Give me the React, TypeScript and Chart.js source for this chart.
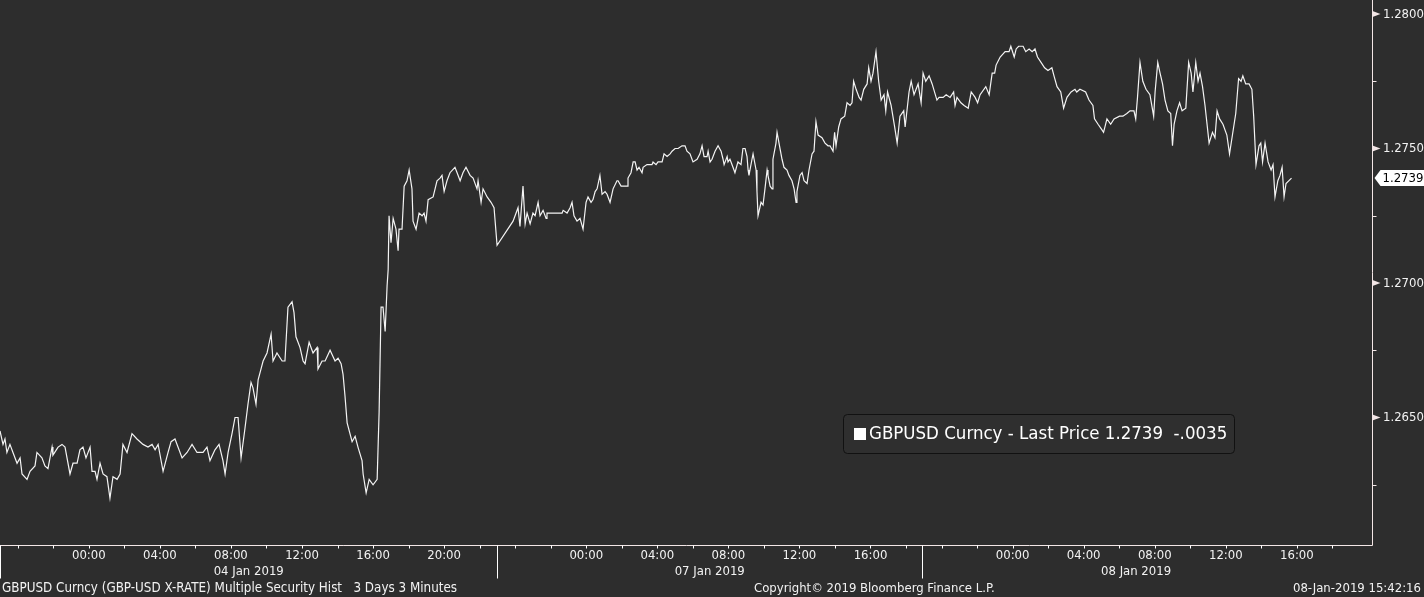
import React, { useEffect, useRef } from "react";
import { Chart, registerables } from "chart.js";

Chart.register(...registerables);

// x = hours on Bloomberg's compressed intraday axis (0 = 03 Jan 19:00), y = GBPUSD price
const JAN04_POINTS: [number, number][] = [
  [0.0, 1.2645], [0.17, 1.264], [0.28, 1.2642], [0.39, 1.2637], [0.56, 1.264], [0.73, 1.2637], [0.96, 1.2633], [1.13, 1.2635], [1.24, 1.2629], [1.52, 1.2627],
  [1.69, 1.263], [1.97, 1.2632], [2.08, 1.2637], [2.36, 1.2635], [2.53, 1.2632], [2.7, 1.2631], [2.93, 1.2639], [2.98, 1.2636], [3.27, 1.2639], [3.49, 1.264],
  [3.66, 1.2639], [3.94, 1.2629], [4.11, 1.2633], [4.34, 1.2633], [4.5, 1.2638], [4.67, 1.2639], [4.84, 1.2635], [5.07, 1.2639], [5.18, 1.263], [5.35, 1.263],
  [5.46, 1.2627], [5.63, 1.2633], [5.8, 1.2629], [6.02, 1.2628], [6.19, 1.262], [6.36, 1.2628], [6.59, 1.2627], [6.76, 1.2629], [6.92, 1.264], [7.15, 1.2637],
  [7.43, 1.2644], [7.71, 1.2642], [8.05, 1.264], [8.33, 1.2639], [8.56, 1.264], [8.73, 1.2638], [8.9, 1.264], [9.18, 1.263], [9.46, 1.2637], [9.63, 1.2641],
  [9.85, 1.2642], [10.25, 1.2635], [10.53, 1.2637], [10.81, 1.264], [11.09, 1.2637], [11.43, 1.2637], [11.65, 1.2639], [11.82, 1.2634], [12.1, 1.2638], [12.33, 1.264],
  [12.55, 1.2634], [12.67, 1.2629], [12.84, 1.2637], [13.06, 1.2644], [13.23, 1.265], [13.4, 1.265], [13.57, 1.2635], [13.79, 1.2646], [13.96, 1.2655], [14.13, 1.2663],
  [14.24, 1.2661], [14.41, 1.2655], [14.53, 1.2664], [14.69, 1.2668], [14.81, 1.2671], [15.03, 1.2674], [15.26, 1.2681], [15.37, 1.2671], [15.59, 1.2674], [15.88, 1.2671],
  [16.04, 1.2671], [16.21, 1.2691], [16.44, 1.2693], [16.55, 1.2689], [16.66, 1.268], [16.89, 1.2676], [17.06, 1.2671], [17.17, 1.267], [17.4, 1.2678], [17.62, 1.2674],
  [17.85, 1.2676], [17.9, 1.2668], [18.13, 1.2671], [18.3, 1.2671], [18.58, 1.2675], [18.86, 1.2671], [19.03, 1.2672], [19.2, 1.267], [19.31, 1.2666], [19.42, 1.2658],
  [19.54, 1.2648], [19.82, 1.2641], [19.99, 1.2643], [20.15, 1.2639], [20.38, 1.2634], [20.44, 1.2629], [20.61, 1.2622], [20.78, 1.2627], [21.0, 1.2625], [21.23, 1.2627],
  [21.34, 1.2652], [21.45, 1.2691], [21.56, 1.2691], [21.68, 1.2682], [21.79, 1.2699], [21.85, 1.2705], [21.9, 1.2725], [22.01, 1.2715], [22.13, 1.2724], [22.29, 1.272],
  [22.41, 1.2712], [22.46, 1.272], [22.63, 1.272], [22.75, 1.2736], [22.91, 1.2738], [23.03, 1.2742], [23.19, 1.2735], [23.25, 1.2723], [23.42, 1.272], [23.59, 1.2726],
  [23.76, 1.2725], [23.87, 1.2726], [23.98, 1.2723], [24.1, 1.2731], [24.38, 1.2732], [24.6, 1.2738], [24.77, 1.2739], [24.88, 1.274], [25.0, 1.2734], [25.16, 1.2738],
  [25.33, 1.2741], [25.61, 1.2743], [25.73, 1.2741], [25.9, 1.2738], [26.06, 1.2741], [26.23, 1.2743], [26.46, 1.274], [26.63, 1.2739], [26.85, 1.2735], [26.91, 1.2738],
  [27.08, 1.273], [27.19, 1.2735], [27.42, 1.2732], [27.64, 1.273], [27.81, 1.2728], [27.98, 1.2714],
];

const JAN07_POINTS: [number, number][] = [
  [28.88, 1.2723], [29.16, 1.2728], [29.27, 1.2721], [29.44, 1.2736], [29.56, 1.2722], [29.67, 1.2726], [29.84, 1.2722], [30.0, 1.2726], [30.12, 1.2725], [30.29, 1.273],
  [30.4, 1.2725], [30.57, 1.2727], [30.74, 1.2724], [30.79, 1.2726], [31.36, 1.2726], [31.53, 1.2726], [31.64, 1.2726], [31.7, 1.2727], [31.92, 1.2726], [32.09, 1.2728],
  [32.2, 1.273], [32.31, 1.2725], [32.48, 1.2723], [32.65, 1.2724], [32.82, 1.272], [32.99, 1.273], [33.1, 1.2732], [33.27, 1.273], [33.38, 1.2731], [33.5, 1.2734],
  [33.61, 1.2735], [33.77, 1.274], [33.89, 1.2733], [34.06, 1.2734], [34.17, 1.2733], [34.34, 1.273], [34.51, 1.2735], [34.73, 1.2738], [34.79, 1.2738], [34.96, 1.2736],
  [35.07, 1.2736], [35.3, 1.2736], [35.35, 1.2739], [35.52, 1.2741], [35.64, 1.2745], [35.75, 1.2745], [35.86, 1.2742], [35.97, 1.2743], [36.14, 1.2741], [36.2, 1.2743],
  [36.42, 1.2744], [36.7, 1.2744], [36.76, 1.2745], [36.93, 1.2744], [37.04, 1.2745], [37.27, 1.2745], [37.38, 1.2748], [37.55, 1.2747], [37.72, 1.2748], [37.83, 1.2749],
  [38.0, 1.275], [38.17, 1.275], [38.39, 1.2751], [38.56, 1.2751], [38.67, 1.2749], [38.84, 1.2748], [39.01, 1.2745], [39.24, 1.2746], [39.4, 1.2748], [39.52, 1.2751],
  [39.63, 1.2747], [39.8, 1.2747], [39.86, 1.2749], [39.97, 1.2745], [40.08, 1.2746], [40.25, 1.2749], [40.42, 1.2751], [40.59, 1.2749], [40.7, 1.2746], [40.76, 1.2744],
  [40.93, 1.2747], [40.98, 1.2745], [41.09, 1.2746], [41.26, 1.2743], [41.37, 1.2741], [41.54, 1.2745], [41.71, 1.2744], [41.82, 1.275], [41.94, 1.275], [42.05, 1.2747],
  [42.11, 1.2742], [42.16, 1.274], [42.33, 1.2746], [42.39, 1.2748], [42.56, 1.2742], [42.61, 1.2734], [42.67, 1.2725], [42.84, 1.273], [42.95, 1.2729], [43.06, 1.2735],
  [43.18, 1.2742], [43.23, 1.274], [43.35, 1.2736], [43.46, 1.2735], [43.51, 1.2746], [43.68, 1.2752], [43.74, 1.2756], [43.85, 1.2752], [44.02, 1.2746], [44.13, 1.2743],
  [44.3, 1.2742], [44.41, 1.274], [44.58, 1.2738], [44.7, 1.2735], [44.81, 1.273], [44.86, 1.2734], [45.03, 1.274], [45.15, 1.2741], [45.26, 1.2738], [45.43, 1.2737],
  [45.54, 1.2742], [45.71, 1.2748], [45.82, 1.2749], [45.93, 1.276], [46.05, 1.2755], [46.27, 1.2754], [46.44, 1.2752], [46.61, 1.2751], [46.72, 1.2751], [46.89, 1.2749],
  [46.98, 1.2756], [47.06, 1.2751], [47.21, 1.2758], [47.34, 1.2761], [47.55, 1.2762], [47.68, 1.2767], [47.85, 1.2766], [47.96, 1.2767], [48.05, 1.2775], [48.19, 1.2772],
  [48.36, 1.2769], [48.47, 1.2768], [48.62, 1.2772], [48.81, 1.2774], [48.9, 1.278], [49.03, 1.2775], [49.14, 1.2778], [49.31, 1.2786], [49.46, 1.2775], [49.6, 1.2768],
  [49.76, 1.277], [49.86, 1.2764], [49.96, 1.2771], [50.16, 1.2766], [50.36, 1.2758], [50.5, 1.2752], [50.66, 1.2762], [50.87, 1.2764], [50.95, 1.2758], [51.17, 1.2771],
  [51.29, 1.2775], [51.45, 1.277], [51.68, 1.2774], [51.85, 1.2767], [51.96, 1.2778],
];

const JAN08_POINTS: [number, number][] = [
  [52.11, 1.2775], [52.3, 1.2777], [52.47, 1.2774], [52.74, 1.2768], [52.86, 1.2769], [53.09, 1.2769], [53.26, 1.277], [53.48, 1.2769], [53.68, 1.2771], [53.76, 1.2766],
  [53.87, 1.2769], [54.09, 1.2767], [54.27, 1.2766], [54.5, 1.2765], [54.67, 1.2771], [54.89, 1.2769], [55.03, 1.2767], [55.17, 1.277], [55.49, 1.2773], [55.68, 1.277],
  [55.85, 1.2778], [55.99, 1.2778], [56.07, 1.2781], [56.3, 1.2784], [56.58, 1.2786], [56.8, 1.2786], [56.9, 1.2788], [57.09, 1.2784], [57.2, 1.2787], [57.34, 1.2788],
  [57.59, 1.2788], [57.74, 1.2786], [57.93, 1.2787], [58.1, 1.2786], [58.26, 1.2787], [58.4, 1.2784], [58.6, 1.2782], [58.8, 1.278], [58.99, 1.2779], [59.21, 1.278],
  [59.33, 1.2777], [59.5, 1.2773], [59.71, 1.2771], [59.87, 1.2765], [60.06, 1.2769], [60.29, 1.2771], [60.51, 1.2772], [60.61, 1.2771], [60.79, 1.2772], [61.11, 1.2771],
  [61.3, 1.2768], [61.52, 1.2766], [61.61, 1.2761], [61.81, 1.2759], [62.02, 1.2757], [62.12, 1.2756], [62.31, 1.2761], [62.52, 1.2759], [62.71, 1.2761], [63.02, 1.2762],
  [63.21, 1.2762], [63.43, 1.2763], [63.61, 1.2764], [63.83, 1.2764], [63.93, 1.2761], [64.03, 1.2769], [64.17, 1.2782], [64.33, 1.2775], [64.51, 1.2772], [64.73, 1.277],
  [64.94, 1.2762], [65.02, 1.2771], [65.17, 1.2782], [65.3, 1.2778], [65.44, 1.2774], [65.58, 1.2768], [65.74, 1.2764], [65.9, 1.2763], [66.0, 1.2751], [66.09, 1.2759],
  [66.25, 1.2764], [66.4, 1.2767], [66.54, 1.2764], [66.75, 1.2765], [66.91, 1.2782], [67.05, 1.2778], [67.15, 1.2771], [67.31, 1.2782], [67.44, 1.2775], [67.55, 1.2778],
  [67.69, 1.2773], [67.83, 1.2766], [68.06, 1.2752], [68.25, 1.2756], [68.39, 1.2754], [68.51, 1.2764], [68.65, 1.2761], [68.84, 1.2759], [69.06, 1.2755], [69.21, 1.2748],
  [69.35, 1.2754], [69.56, 1.2763], [69.72, 1.2776], [69.86, 1.2775], [69.96, 1.2777], [70.12, 1.2774], [70.31, 1.2774], [70.47, 1.2772], [70.57, 1.2762], [70.7, 1.2744],
  [70.87, 1.2751], [70.97, 1.2752], [71.07, 1.2745], [71.21, 1.2752], [71.38, 1.2745], [71.55, 1.2742], [71.66, 1.2744], [71.77, 1.2732], [71.93, 1.2738], [72.05, 1.274],
  [72.17, 1.2743], [72.28, 1.2732], [72.39, 1.2737], [72.7, 1.2739],
];

// Session boundaries on the compressed axis (hours) and their day labels
const SESSION_BOUNDS = [0, 28, 51.9, 76];
const DAY_LABELS = ["04 Jan 2019", "07 Jan 2019", "08 Jan 2019"];
const TIME_TICK_HOURS = [5, 9, 13, 17, 21, 25, 33, 37, 41, 45, 49, 57, 61, 65, 69, 73];
const TIME_TICK_LABELS = [
  "00:00", "04:00", "08:00", "12:00", "16:00", "20:00",
  "00:00", "04:00", "08:00", "12:00", "16:00",
  "00:00", "04:00", "08:00", "12:00", "16:00",
];
const PRICE_TICKS = [1.265, 1.27, 1.275, 1.28];
const PRICE_TICK_LABELS = ["1.2650", "1.2700", "1.2750", "1.2800"];
const MINOR_PRICE_TICKS = [1.2625, 1.2675, 1.2725, 1.2775];
const LAST_PRICE = 1.2739;
const LAST_PRICE_LABEL = "1.2739";
const NET_CHANGE_LABEL = "-.0035";
const SERIES_NAME = "GBPUSD Curncy - Last Price";
const FOOTER_LEFT = "GBPUSD Curncy (GBP-USD X-RATE) Multiple Security Hist   3 Days 3 Minutes";
const FOOTER_MID = "Copyright\u00A9 2019 Bloomberg Finance L.P.";
const FOOTER_RIGHT = "08-Jan-2019 15:42:16";

const BG = "#2d2d2d";
const AXIS = "#f3e6e6";
const TEXT = "#f2f2f2";
const FONT = "'DejaVu Sans Condensed', 'DejaVu Sans', sans-serif";
const W = 1424;
const H = 597;

const bbgPlugin = {
  id: "bbgDecor",
  beforeDraw(chart: any) {
    const { ctx, width, height } = chart;
    ctx.save();
    ctx.fillStyle = BG;
    ctx.fillRect(0, 0, width, height);
    ctx.restore();
  },
  afterDraw(chart: any) {
    const { ctx, chartArea: a, scales } = chart;
    const xs = scales.x;
    const ys = scales.y;
    const R = Math.round(a.right) + 0.5;
    const B = Math.round(a.bottom) + 0.5;
    ctx.save();
    ctx.strokeStyle = AXIS;
    ctx.lineWidth = 1;
    ctx.beginPath();
    ctx.moveTo(R, 0);
    ctx.lineTo(R, B);
    ctx.moveTo(0, B);
    ctx.lineTo(R, B);
    ctx.stroke();

    // x ticks every 2 hours
    ctx.strokeStyle = "#ffffff";
    ctx.beginPath();
    for (let h = 1; h < SESSION_BOUNDS[SESSION_BOUNDS.length - 1]; h += 2) {
      const x = Math.round(xs.getPixelForValue(h)) + 0.5;
      ctx.moveTo(x, B);
      ctx.lineTo(x, B + 3);
    }
    // session separators
    for (let i = 0; i < SESSION_BOUNDS.length - 1; i++) {
      const x = Math.max(0.5, Math.round(xs.getPixelForValue(SESSION_BOUNDS[i])) + 0.5);
      ctx.moveTo(x, B);
      ctx.lineTo(x, B + 33);
    }
    ctx.stroke();

    ctx.fillStyle = TEXT;
    ctx.font = `13px ${FONT}`;
    ctx.textAlign = "center";
    ctx.textBaseline = "middle";
    TIME_TICK_HOURS.forEach((h, i) => {
      ctx.fillText(TIME_TICK_LABELS[i], xs.getPixelForValue(h), B + 10);
    });
    DAY_LABELS.forEach((d, i) => {
      const mid = (SESSION_BOUNDS[i] + SESSION_BOUNDS[i + 1]) / 2;
      ctx.fillText(d, xs.getPixelForValue(mid), B + 26);
    });

    // y ticks
    ctx.textAlign = "left";
    PRICE_TICKS.forEach((p, i) => {
      const y = ys.getPixelForValue(p);
      ctx.fillStyle = AXIS;
      ctx.beginPath();
      ctx.moveTo(R, y - 3);
      ctx.lineTo(R + 8, y);
      ctx.lineTo(R, y + 3);
      ctx.closePath();
      ctx.fill();
      ctx.fillStyle = TEXT;
      ctx.fillText(PRICE_TICK_LABELS[i], R + 10.5, y + 0.5);
    });
    ctx.strokeStyle = AXIS;
    ctx.beginPath();
    MINOR_PRICE_TICKS.forEach((p) => {
      const y = Math.round(ys.getPixelForValue(p)) + 0.5;
      ctx.moveTo(R, y);
      ctx.lineTo(R + 4, y);
    });
    ctx.stroke();

    // last price tag
    const ly = Math.round(ys.getPixelForValue(LAST_PRICE));
    ctx.fillStyle = "#ffffff";
    ctx.beginPath();
    ctx.moveTo(R + 2, ly);
    ctx.lineTo(R + 8, ly - 8);
    ctx.lineTo(W, ly - 8);
    ctx.lineTo(W, ly + 8);
    ctx.lineTo(R + 8, ly + 8);
    ctx.closePath();
    ctx.fill();
    ctx.fillStyle = "#000000";
    ctx.fillText(LAST_PRICE_LABEL, R + 10, ly + 0.5);

    // legend box
    const lx = 843.5, ly0 = 414.5, lw = 391, lh = 39;
    ctx.fillStyle = "#2f2f2f";
    ctx.strokeStyle = "#111111";
    ctx.beginPath();
    (ctx as any).roundRect(lx, ly0, lw, lh, 4);
    ctx.fill();
    ctx.stroke();
    ctx.fillStyle = "#ffffff";
    ctx.fillRect(854, 428, 12, 12);
    ctx.font = `18.5px ${FONT}`;
    ctx.fillText(`${SERIES_NAME} ${LAST_PRICE_LABEL}  ${NET_CHANGE_LABEL}`, 869, 434.5);

    // footer
    ctx.font = `13.3px ${FONT}`;
    ctx.fillStyle = TEXT;
    ctx.textAlign = "left";
    ctx.fillText(FOOTER_LEFT, 2, 589);
    ctx.font = `13px ${FONT}`;
    ctx.fillText(FOOTER_MID, 754, 589);
    ctx.textAlign = "right";
    ctx.fillText(FOOTER_RIGHT, 1421, 589);
    ctx.restore();
  },
};

export default function App() {
  const ref = useRef<HTMLCanvasElement | null>(null);
  useEffect(() => {
    document.body.style.margin = "0";
    document.body.style.background = BG;
    const canvas = ref.current;
    if (!canvas) return;
    const toXY = (pts: [number, number][]) => pts.map(([x, y]) => ({ x, y }));
    const chart = new Chart(canvas, {
      type: "line",
      data: {
        datasets: [
          {
            label: SERIES_NAME,
            data: [...toXY(JAN04_POINTS), ...toXY(JAN07_POINTS), ...toXY(JAN08_POINTS)],
            borderColor: "#f4f4f4",
            borderWidth: 1.2,
            pointRadius: 0,
            tension: 0,
            fill: false,
          },
        ],
      },
      options: {
        animation: false,
        responsive: false,
        maintainAspectRatio: false,
        devicePixelRatio: 1,
        parsing: false as any,
        normalized: true,
        layout: { padding: { left: 0, top: 0, right: 52, bottom: 52 } },
        plugins: { legend: { display: false }, tooltip: { enabled: false } },
        scales: {
          x: { type: "linear", min: 0, max: 77.23, display: false },
          y: { type: "linear", min: 1.26026, max: 1.28052, display: false },
        },
      },
      plugins: [bbgPlugin],
    });
    return () => chart.destroy();
  }, []);
  return (
    <div style={{ position: "fixed", left: 0, top: 0, width: W, height: H, background: BG }}>
      <canvas ref={ref} width={W} height={H} style={{ display: "block", width: W, height: H }} />
    </div>
  );
}
